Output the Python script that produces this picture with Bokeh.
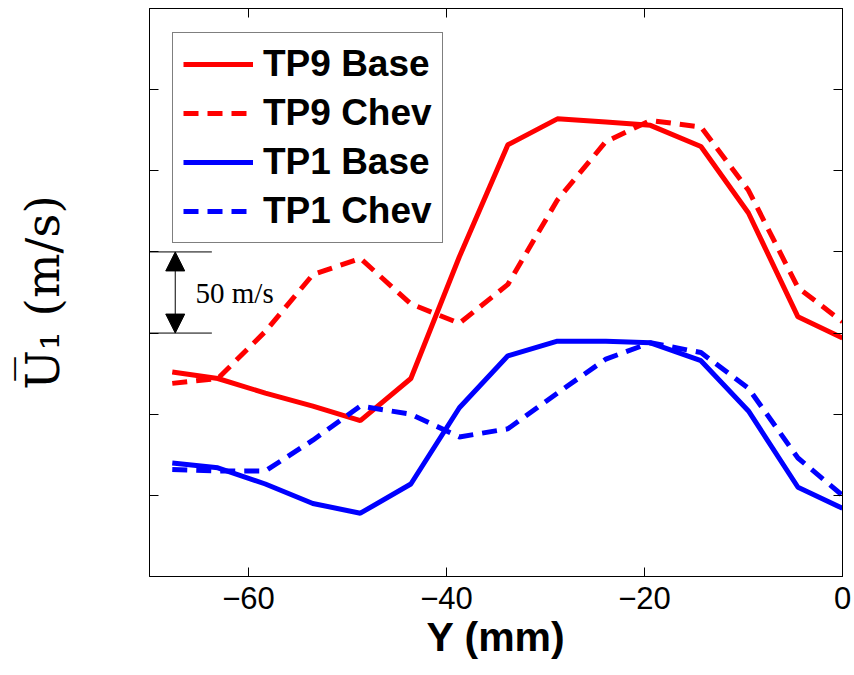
from bokeh.plotting import figure
from bokeh.models import (Legend, LegendItem, LinearAxis, FixedTicker, CustomJSTickFormatter,
                          Arrow, NormalHead, Range1d, Label)
from bokeh.embed import file_html
from bokeh.resources import INLINE

# ---- data ----
y_mm = [-67.7, -63.1, -58.3, -53.5, -48.7, -43.6, -38.7, -33.8, -28.8, -23.9, -19.4, -14.3, -9.5, -4.5, 0.0]
tp9_base = [126, 122, 113, 105, 96, 122, 197, 266, 282, 280, 278, 265, 224, 160, 147]
tp9_chev = [119, 122, 151, 186, 196, 168, 156, 180, 232, 268, 281, 277, 238, 178, 157]
tp1_base = [70, 67, 57, 45, 39, 57, 104, 136, 145, 145, 144, 133, 102, 55, 42]
tp1_chev = [66, 65, 65, 84, 105, 100, 86, 91, 113, 134, 144, 138, 116, 73, 50]

x_ticks = [-60, -40, -20, 0]
y_ticks = [50, 100, 150, 200, 250, 300]
scale_lo, scale_hi = 150, 200   # 50 m/s scale bar
scale_text = "50 m/s"

RED = "#ff0000"
BLUE = "#0000ff"
DASH = "15 9"

p = figure(width=852, height=672, output_backend="svg", toolbar_location=None,
           x_range=Range1d(-70, 0), y_range=Range1d(0, 350),
           x_axis_location=None, y_axis_location=None,
           min_border_left=149, min_border_right=10, min_border_top=8, min_border_bottom=96)
p.grid.visible = False
p.outline_line_color = "black"
p.background_fill_color = "white"
p.border_fill_color = "white"


def make_axis(ticks, labels):
    ax = LinearAxis(ticker=FixedTicker(ticks=ticks), major_tick_in=9, major_tick_out=0,
                    minor_tick_line_color=None, axis_line_color="black",
                    major_tick_line_color="black", axis_line_width=1)
    if not labels:
        ax.formatter = CustomJSTickFormatter(code="return ''")
        ax.major_label_text_font_size = "0px"
        ax.major_label_standoff = 0
    return ax


bottom = make_axis(x_ticks, True)
bottom.major_label_text_font = "Liberation Sans"
bottom.major_label_text_font_size = "31px"
bottom.major_label_text_color = "black"
bottom.major_label_standoff = 10
bottom.axis_label = "Y (mm)"
bottom.axis_label_text_font = "Liberation Sans"
bottom.axis_label_text_font_style = "bold"
bottom.axis_label_text_font_size = "41px"
bottom.axis_label_text_color = "black"
bottom.axis_label_standoff = 2
p.add_layout(bottom, "below")

left = make_axis(y_ticks, False)
left.axis_label = "U\u0305\u2081 (m/s)"
left.axis_label_text_font = "DejaVu Serif"
left.axis_label_text_font_style = "normal"
left.axis_label_text_font_size = "47px"
left.axis_label_text_color = "black"
left.axis_label_standoff = 80
p.add_layout(left, "left")

p.add_layout(make_axis(x_ticks, False), "above")
p.add_layout(make_axis(y_ticks, False), "right")

r1 = p.line(y_mm, tp9_base, line_color=RED, line_width=5)
r2 = p.line(y_mm, tp9_chev, line_color=RED, line_width=5, line_dash=DASH)
r3 = p.line(y_mm, tp1_base, line_color=BLUE, line_width=5)
r4 = p.line(y_mm, tp1_chev, line_color=BLUE, line_width=5, line_dash=DASH)

legend = Legend(items=[LegendItem(label="TP9 Base", renderers=[r1]),
                       LegendItem(label="TP9 Chev", renderers=[r2]),
                       LegendItem(label="TP1 Base", renderers=[r3]),
                       LegendItem(label="TP1 Chev", renderers=[r4])],
                location=(23, 333),
                label_text_font="Liberation Sans", label_text_font_style="bold",
                label_text_font_size="37px", label_text_color="black",
                glyph_width=70, glyph_height=38, label_height=38, label_standoff=10,
                padding=10, spacing=7, margin=0,
                border_line_color="black", border_line_width=1,
                background_fill_color="white", background_fill_alpha=1)
p.add_layout(legend)

# scale bar annotation
p.segment(x0=[-70, -70], y0=[scale_lo, scale_hi], x1=[-63.7, -63.7], y1=[scale_lo, scale_hi],
          line_color="black", line_width=1)
p.add_layout(Arrow(x_start=-67.4, y_start=scale_lo, x_end=-67.4, y_end=scale_hi,
                   line_color="black", line_width=1,
                   start=NormalHead(size=19, fill_color="black", line_color="black"),
                   end=NormalHead(size=19, fill_color="black", line_color="black")))
p.add_layout(Label(x=-65.35, y=(scale_lo + scale_hi) / 2, text=scale_text,
                   text_font="Liberation Serif", text_font_size="29px",
                   text_baseline="middle", text_color="black"))

open("out.html", "w").write(file_html(p, INLINE))
